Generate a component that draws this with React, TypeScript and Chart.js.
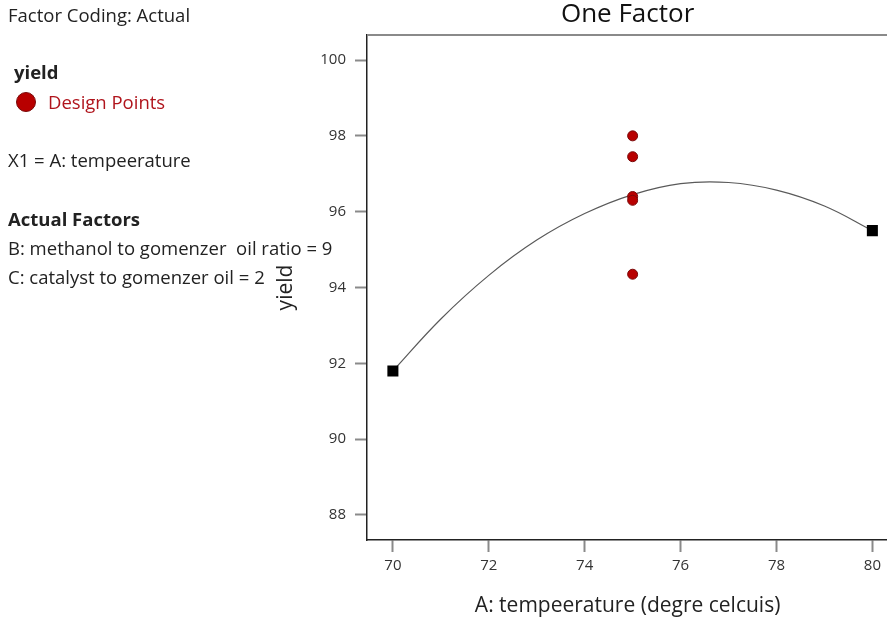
import React, { useEffect, useRef } from "react";
import { Chart, registerables } from "chart.js";

Chart.register(...registerables);

// Fitted model line
const curveTemp = [70, 71, 72, 73, 74, 75, 76, 77, 78, 79, 80];
const curveYield = [91.8, 93.17, 94.32, 95.25, 95.95, 96.45, 96.74, 96.77, 96.57, 96.15, 95.5];

// Design points (red circles)
const designTemp = [75, 75, 75, 75, 75];
const designYield = [98.0, 97.45, 96.4, 96.3, 94.35];

// Endpoints (black squares)
const endTemp = [70, 80];
const endYield = [91.8, 95.5];

const xTicks = [70, 72, 74, 76, 78, 80];
const yTicks = [88, 90, 92, 94, 96, 98, 100];

const FONT = "'Open Sans', 'Noto Sans', sans-serif";

const topBorder = {
  id: "topBorder",
  afterDraw(chart: any) {
    const { ctx, chartArea } = chart;
    ctx.save();
    ctx.strokeStyle = "#8a8a8a";
    ctx.lineWidth = 2;
    ctx.beginPath();
    ctx.moveTo(chartArea.left, chartArea.top);
    ctx.lineTo(chartArea.right, chartArea.top);
    ctx.stroke();
    ctx.restore();
  },
};

export default function App() {
  const ref = useRef<HTMLCanvasElement>(null);

  useEffect(() => {
    document.body.style.margin = "0";
    const canvas = ref.current!;
    const chart = new Chart(canvas, {
      type: "scatter",
      data: {
        datasets: [
          {
            type: "line",
            label: "model",
            data: curveTemp.map((x, i) => ({ x, y: curveYield[i] })),
            borderColor: "#5a5a5a",
            borderWidth: 1.2,
            pointRadius: 0,
            tension: 0.4,
            fill: false,
            order: 3,
          } as any,
          {
            label: "ends",
            data: endTemp.map((x, i) => ({ x, y: endYield[i] })),
            pointStyle: "rect",
            pointRadius: 7.8,
            backgroundColor: "#000",
            borderColor: "#000",
            borderWidth: 0,
            order: 2,
          } as any,
          {
            label: "Design Points",
            data: designTemp.map((x, i) => ({ x, y: designYield[i] })),
            pointStyle: "circle",
            pointRadius: 5,
            backgroundColor: "#b80000",
            borderColor: "#7a0a0a",
            borderWidth: 1,
            order: 1,
          } as any,
        ],
      },
      options: {
        animation: false,
        responsive: false,
        maintainAspectRatio: false,
        layout: { padding: { left: 273, right: 0, top: 0, bottom: 0 } },
        plugins: {
          legend: { display: false },
          tooltip: { enabled: false },
          title: {
            display: true,
            text: "One Factor",
            fullSize: false,
            color: "#111",
            font: { family: FONT, size: 26, weight: "normal", lineHeight: 1 },
            padding: { top: 2, bottom: 7 },
          },
        },
        scales: {
          x: {
            type: "linear",
            min: 69.46,
            max: 80.33,
            afterBuildTicks: (s: any) => {
              s.ticks = xTicks.map((v) => ({ value: v }));
            },
            afterFit: (s: any) => {
              s.height = 81;
            },
            ticks: {
              color: "#333",
              font: { family: FONT, size: 15 },
              padding: 5,
              maxRotation: 0,
            },
            grid: {
              drawOnChartArea: false,
              drawTicks: true,
              tickLength: 12,
              tickColor: "#8a8a8a",
              tickWidth: 2,
            },
            border: { display: true, color: "#222", width: 1.5 },
            title: {
              display: true,
              text: "A: tempeerature (degre celcuis)",
              color: "#222",
              font: { family: FONT, size: 21 },
              padding: { top: 0, bottom: 2.4 },
            },
          },
          y: {
            type: "linear",
            min: 87.34,
            max: 100.66,
            afterBuildTicks: (s: any) => {
              s.ticks = yTicks.map((v) => ({ value: v }));
            },
            afterFit: (s: any) => {
              s.width = 94;
            },
            ticks: {
              color: "#333",
              font: { family: FONT, size: 15 },
              padding: 9,
            },
            grid: {
              drawOnChartArea: false,
              drawTicks: true,
              tickLength: 12,
              tickColor: "#8a8a8a",
              tickWidth: 2,
            },
            border: { display: true, color: "#222", width: 1.5 },
            title: {
              display: true,
              text: "yield",
              color: "#222",
              font: { family: FONT, size: 21 },
              padding: { top: 0, bottom: 0 },
            },
          },
        },
      },
      plugins: [topBorder],
    });
    return () => chart.destroy();
  }, []);

  const textStyle: React.CSSProperties = {
    position: "absolute",
    left: 8,
    fontFamily: FONT,
    fontSize: 18.5,
    lineHeight: "22px",
    color: "#222",
    whiteSpace: "pre",
    margin: 0,
  };

  return (
    <div style={{ position: "relative", width: 887, height: 621, background: "#fff", overflow: "hidden" }}>
      <canvas ref={ref} width={896} height={621} style={{ position: "absolute", left: 0, top: 0 }} />
      <div style={{ ...textStyle, top: 4 }}>Factor Coding: Actual</div>
      <div style={{ ...textStyle, top: 61, left: 14, fontWeight: 700 }}>yield</div>
      <div
        style={{
          position: "absolute",
          left: 16,
          top: 92,
          width: 20,
          height: 20,
          borderRadius: "50%",
          background: "#b80000",
          border: "1px solid #7a0a0a",
          boxSizing: "border-box",
        }}
      />
      <div style={{ ...textStyle, top: 91, left: 48, color: "#b0141c" }}>Design Points</div>
      <div style={{ ...textStyle, top: 149 }}>X1 = A: tempeerature</div>
      <div style={{ ...textStyle, top: 208, fontWeight: 700 }}>Actual Factors</div>
      <div style={{ ...textStyle, top: 237 }}>B: methanol to gomenzer  oil ratio = 9</div>
      <div style={{ ...textStyle, top: 266 }}>C: catalyst to gomenzer oil = 2</div>
    </div>
  );
}
